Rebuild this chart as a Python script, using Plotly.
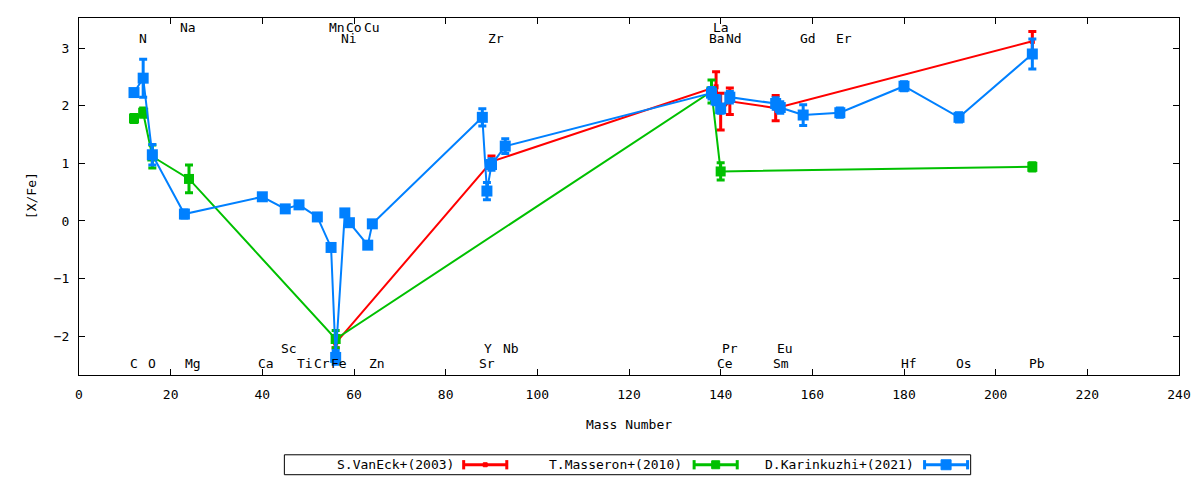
import plotly.graph_objects as go

# S.VanEck+(2003)
vanEckMass = [56, 90, 139, 140, 142, 152, 208]
vanEckXFe = [-2.12, 1.03, 2.33, 1.90, 2.08, 1.96, 3.12]
vanEckErr = [0.08, 0.10, 0.26, 0.32, 0.23, 0.22, 0.17]

# T.Masseron+(2010)
masseronMass = [12, 14, 16, 24, 56, 138, 140, 208]
masseronXFe = [1.78, 1.88, 1.12, 0.73, -2.05, 2.25, 0.86, 0.94]
masseronErr = [0.07, 0.08, 0.20, 0.24, 0.15, 0.20, 0.15, 0.07]

# D.Karinkuzhi+(2021)
karinkuzhiMass = [12, 14, 16, 23, 40, 45, 48, 52, 55, 56, 58, 59, 63, 64,
                  88, 89, 90, 93, 138, 139, 140, 142, 152, 153, 158, 166,
                  180, 192, 208]
karinkuzhiXFe = [2.23, 2.48, 1.15, 0.12, 0.42, 0.21, 0.28, 0.07, -0.46, -2.37,
                 0.14, -0.03, -0.42, -0.05, 1.80, 0.52, 0.98, 1.30, 2.22, 2.10,
                 1.95, 2.15, 2.04, 1.97, 1.84, 1.88, 2.34, 1.80, 2.90]
karinkuzhiErr = [0.05, 0.33, 0.18, 0.07, 0.03, 0.03, 0.03, 0.03, 0.03, 0.12,
                 0.03, 0.03, 0.03, 0.03, 0.15, 0.15, 0.10, 0.13, 0.10, 0.08,
                 0.08, 0.10, 0.10, 0.10, 0.18, 0.08, 0.08, 0.08, 0.26]

# element labels: name, x position on the mass axis, row (0/1 above, 2/3 below)
elemNames = ['C', 'N', 'O', 'Na', 'Mg', 'Ca', 'Sc', 'Ti', 'Cr', 'Mn', 'Fe',
             'Co', 'Ni', 'Cu', 'Zn', 'Sr', 'Y', 'Zr', 'Nb', 'Ba', 'La', 'Ce',
             'Pr', 'Nd', 'Sm', 'Eu', 'Gd', 'Er', 'Hf', 'Os', 'Pb']
elemLabelX = [12, 14, 16, 23.8, 24.9, 40.9, 45.9, 49.2, 53.1, 56.2, 56.8,
              60.1, 58.8, 63.9, 65.1, 89.0, 89.2, 90.9, 94.2, 139.2, 140.1, 141.0,
              142.1, 143.0, 153.2, 154.1, 159.1, 167.0, 181.0, 193.0, 209.0]
elemRow = [3, 1, 3, 0, 3, 3, 2, 3, 3, 0, 3, 0, 1, 0, 3, 3,
           2, 1, 2, 1, 0, 3, 2, 1, 3, 2, 1, 1, 3, 3, 3]

xTicks = list(range(0, 241, 20))
yTicks = [-2, -1, 0, 1, 2, 3]

FONT = 'DejaVu Sans Mono'
RED, GREEN, BLUE = '#ff0000', '#00c000', '#0080ff'

def series(x, y, err, color, name, msize):
  return go.Scatter(
    x = x, y = y, name = name, mode = 'lines+markers',
    line = {'color': color, 'width': 2},
    marker = {'symbol': 'square', 'size': msize, 'color': color},
    error_y = {'type': 'data', 'array': err, 'color': color,
               'thickness': 3, 'width': 4},
    showlegend = False,
  )

def text(t, **kw):
  return dict(text = t, showarrow = False,
              font = {'family': FONT, 'size': 13, 'color': 'black'}, **kw)

fig = go.Figure()
fig.add_trace(series(vanEckMass, vanEckXFe, vanEckErr, RED, 'S.VanEck+(2003)', 5))
fig.add_trace(series(masseronMass, masseronXFe, masseronErr, GREEN, 'T.Masseron+(2010)', 10))
fig.add_trace(series(karinkuzhiMass, karinkuzhiXFe, karinkuzhiErr, BLUE, 'D.Karinkuzhi+(2021)', 11))

rowY = [3.36, 3.17, -2.22, -2.47]
for name, lx, row in zip(elemNames, elemLabelX, elemRow):
  fig.add_annotation(**text(name, x = lx, y = rowY[row]))

# axis titles
fig.add_annotation(**text('Mass Number', x = 0.5, y = -0.14, xref = 'paper',
                          yref = 'paper', xanchor = 'center', yanchor = 'middle'))
fig.add_annotation(**text('[X/Fe]', x = -0.043, y = 0.503, xref = 'paper',
                          yref = 'paper', xanchor = 'center', yanchor = 'middle',
                          textangle = -90))

# gnuplot-style key: text then sample, inside a box below the plot
fig.add_shape(type = 'rect', xref = 'paper', yref = 'paper',
              x0 = 0.1867, x1 = 0.8106, y0 = -0.2793, y1 = -0.2235,
              line = {'color': 'black', 'width': 1})
keyY = -0.2514
keyEntries = [('S.VanEck+(2003)', RED, 0.3424, 0.3497, 0.3889, 2),
              ('T.Masseron+(2010)', GREEN, 0.5501, 0.5592, 0.5984, 4),
              ('D.Karinkuzhi+(2021)', BLUE, 0.7605, 0.7687, 0.8078, 5)]
capH = 0.013
for label, color, tx, sx0, sx1, half in keyEntries:
  fig.add_annotation(**text(label, x = tx, y = keyY, xref = 'paper', yref = 'paper',
                            xanchor = 'right', yanchor = 'middle'))
  fig.add_shape(type = 'line', xref = 'paper', yref = 'paper',
                x0 = sx0, x1 = sx1, y0 = keyY, y1 = keyY,
                line = {'color': color, 'width': 3})
  for cx in (sx0, sx1):
    fig.add_shape(type = 'line', xref = 'paper', yref = 'paper',
                  x0 = cx, x1 = cx, y0 = keyY - capH, y1 = keyY + capH,
                  line = {'color': color, 'width': 3})
  mid = (sx0 + sx1) / 2
  fig.add_shape(type = 'rect', xref = 'paper', yref = 'paper',
                x0 = mid - half / 1098, x1 = mid + half / 1098,
                y0 = keyY - half / 358, y1 = keyY + half / 358,
                line = {'color': color, 'width': 1}, fillcolor = color)

axisStyle = dict(
  showline = True, linecolor = 'black', linewidth = 1, mirror = 'allticks',
  ticks = 'inside', ticklen = 6, tickcolor = 'black', showgrid = False,
  zeroline = False, tickfont = {'family': FONT, 'size': 13, 'color': 'black'},
)
fig.update_xaxes(range = [0, 240], tickvals = xTicks, ticklabelstandoff = 7, **axisStyle)
fig.update_yaxes(range = [-2.675, 3.525], tickvals = yTicks, ticklabelstandoff = 6, **axisStyle)

# page body has an 8px margin, so the figure is 8px smaller and offset
fig.update_layout(
  width = 1192, height = 472,
  margin = {'l': 71, 'r': 15, 't': 9, 'b': 105},
  paper_bgcolor = 'white', plot_bgcolor = 'white',
  showlegend = False,
)

fig.write_html('out.html')
